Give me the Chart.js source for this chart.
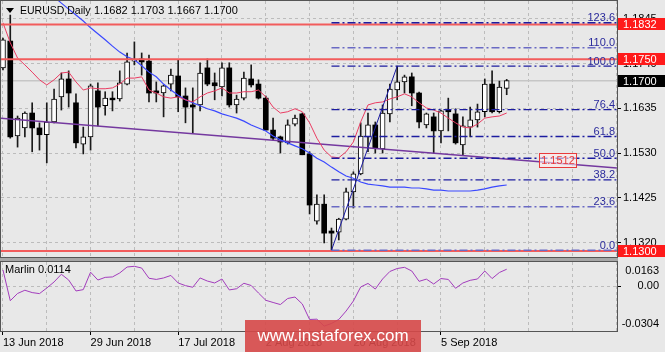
<!DOCTYPE html>
<html><head><meta charset="utf-8">
<script src="https://cdn.jsdelivr.net/npm/chart.js@4.4.1/dist/chart.umd.min.js"></script>
<style>
html,body{margin:0;padding:0;background:#e8e8e8;width:665px;height:352px;overflow:hidden}
#wrapA{position:absolute;left:0;top:0;width:665px;height:258px}
#wrapB{position:absolute;left:0;top:258px;width:665px;height:94px}
#wm{position:absolute;left:245px;top:320px;width:176px;height:32px;background:rgba(214,72,72,0.9);color:#fff;font:17px "Liberation Sans",Arial,sans-serif;line-height:32px;text-align:center}
</style></head><body>
<div id="wrapA"><canvas id="cA" width="665" height="258"></canvas></div>
<div id="wrapB"><canvas id="cB" width="665" height="94"></canvas></div>
<div id="wm">www.instaforex.com</div>
<script>
// ---------- DATA ----------
const symbolTitle = 'EURUSD,Daily';
const dateTickIdx = [0, 12, 24, 36, 48, 60];
const dateTickLabels = ['13 Jun 2018', '29 Jun 2018', '17 Jul 2018', '2 Aug 2018', '20 Aug 2018', '5 Sep 2018'];
const gridIdx = [0, 6, 12, 18, 24, 30, 36, 42, 48, 54, 60, 66, 72, 78, 84];

const opens = [1.1730,1.1793,1.1570,1.1589,1.1624,1.1589,1.1573,1.1603,1.1662,1.1704,
1.1648,1.1551,1.1568,1.1676,1.1641,1.1659,1.1657,1.1692,1.1746,1.1751,
1.1746,1.1676,1.1671,1.1692,1.1711,1.1664,1.1643,1.1643,1.1730,1.1695,
1.1685,1.1730,1.1643,1.1659,1.1704,1.1692,1.1659,1.1584,1.1568,1.1554,
1.1598,1.1622,1.1528,1.1370,1.1410,1.1347,1.1344,1.1375,1.1439,1.1481,
1.1568,1.1596,1.1540,1.1622,1.1678,1.1697,1.1709,1.1671,1.1596,1.1615,
1.1582,1.1631,1.1622,1.1549,1.1591,1.1608,1.1627,1.1692,1.1627,1.1682];
const highs = [1.1800,1.1854,1.1617,1.1627,1.1648,1.1601,1.1648,1.1680,1.1718,1.1723,
1.1669,1.1591,1.1692,1.1695,1.1674,1.1674,1.1723,1.1765,1.1791,1.1765,
1.1760,1.1697,1.1690,1.1727,1.1749,1.1683,1.1683,1.1742,1.1751,1.1718,
1.1742,1.1742,1.1666,1.1720,1.1737,1.1702,1.1664,1.1612,1.1570,1.1608,
1.1619,1.1624,1.1533,1.1432,1.1432,1.1354,1.1377,1.1448,1.1486,1.1601,
1.1624,1.1603,1.1643,1.1692,1.1734,1.1713,1.1718,1.1673,1.1624,1.1624,
1.1631,1.1659,1.1634,1.1615,1.1638,1.1645,1.1704,1.1723,1.1699,1.1703];
const lows = [1.1725,1.1565,1.1544,1.1568,1.1533,1.1537,1.1507,1.1601,1.1631,1.1638,
1.1542,1.1528,1.1537,1.1594,1.1619,1.1629,1.1652,1.1690,1.1737,1.1713,
1.1650,1.1650,1.1615,1.1676,1.1627,1.1601,1.1577,1.1629,1.1688,1.1655,
1.1664,1.1638,1.1624,1.1655,1.1685,1.1657,1.1584,1.1561,1.1530,1.1551,
1.1594,1.1526,1.1387,1.1363,1.1319,1.1302,1.1326,1.1373,1.1401,1.1479,
1.1533,1.1530,1.1530,1.1603,1.1655,1.1671,1.1641,1.1589,1.1589,1.1530,
1.1554,1.1582,1.1551,1.1526,1.1568,1.1591,1.1615,1.1624,1.1624,1.1667];
const closes = [1.1796,1.1568,1.1612,1.1624,1.1589,1.1573,1.1603,1.1657,1.1704,1.1671,
1.1554,1.1568,1.1688,1.1638,1.1659,1.1655,1.1695,1.1744,1.1749,1.1744,
1.1671,1.1671,1.1688,1.1713,1.1662,1.1638,1.1638,1.1718,1.1692,1.1688,
1.1730,1.1643,1.1657,1.1706,1.1690,1.1659,1.1584,1.1565,1.1556,1.1596,
1.1612,1.1526,1.1408,1.1410,1.1342,1.1342,1.1375,1.1439,1.1481,1.1570,
1.1596,1.1542,1.1624,1.1680,1.1697,1.1709,1.1671,1.1603,1.1622,1.1582,
1.1629,1.1627,1.1554,1.1594,1.1608,1.1627,1.1692,1.1627,1.1685,1.1700];

const maFast = [1.1836,1.1789,1.1753,1.1737,1.1720,1.1702,1.1690,1.1702,1.1718,1.1720,
1.1697,1.1678,1.1683,1.1681,1.1681,1.1683,1.1692,1.1706,1.1706,1.1709,
1.1678,1.1671,1.1662,1.1659,1.1662,1.1655,1.1650,1.1662,1.1671,1.1676,
1.1683,1.1671,1.1671,1.1674,1.1674,1.1678,1.1662,1.1638,1.1624,1.1627,
1.1634,1.1627,1.1601,1.1565,1.1537,1.1521,1.1519,1.1533,1.1556,1.1603,
1.1643,1.1648,1.1650,1.1657,1.1662,1.1669,1.1662,1.1648,1.1636,1.1631,
1.1624,1.1612,1.1601,1.1591,1.1589,1.1598,1.1612,1.1615,1.1617,1.1624];
const maSlow = [1.1983,1.1969,1.1955,1.1941,1.1929,1.1918,1.1906,1.1897,1.1882,1.1868,
1.1854,1.1840,1.1824,1.1810,1.1796,1.1781,1.1767,1.1756,1.1749,1.1735,
1.1720,1.1709,1.1692,1.1678,1.1666,1.1655,1.1648,1.1641,1.1634,1.1629,
1.1622,1.1617,1.1612,1.1605,1.1596,1.1589,1.1582,1.1570,1.1561,1.1554,
1.1547,1.1540,1.1530,1.1518,1.1509,1.1497,1.1486,1.1476,1.1471,1.1462,
1.1457,1.1455,1.1453,1.1450,1.1450,1.1450,1.1448,1.1448,1.1446,1.1443,
1.1443,1.1441,1.1441,1.1441,1.1441,1.1443,1.1446,1.1450,1.1453,1.1455];
const marlin = [0.0109,-0.0099,-0.0050,-0.0028,-0.0044,-0.0051,-0.0013,0.0028,0.0080,0.0041,
-0.0033,-0.0024,0.0094,0.0041,0.0059,0.0062,0.0089,0.0129,0.0134,0.0122,
0.0053,0.0045,0.0055,0.0072,0.0021,0.0003,-0.0008,0.0055,0.0034,0.0021,
0.0048,-0.0026,-0.0018,0.0019,0.0004,-0.0047,-0.0096,-0.0111,-0.0125,-0.0084,
-0.0074,-0.0121,-0.0226,-0.0224,-0.0271,-0.0253,-0.0226,-0.0169,-0.0101,-0.0006,
0.0018,-0.0020,0.0048,0.0099,0.0119,0.0127,0.0102,0.0032,0.0047,0.0014,
0.0051,0.0045,-0.0015,0.0021,0.0039,0.0048,0.0102,0.0051,0.0092,0.0114];

const priceTicks = [1.1845, 1.1740, 1.1635, 1.1530, 1.1425, 1.1320];
const redLevels = [1.1832, 1.1750, 1.1300];
const lastPrice = 1.1700;
const fibLow = 1.1302, fibHigh = 1.1734, fibStartIdx = 45, fibEndIdx = 54;
const fibRatios = [0, 23.6, 38.2, 50, 61.8, 76.4, 100, 110, 123.6];
const fibLight = [0, 23.6, 110];
const trendStart = {x: -0.41, y: 1.1612};
const trendEnd = {x: 84.1, y: 1.1495};
const trendLabel = 1.1512;
const marlinTicks = [0.0163, 0, -0.0304];

// ---------- BUILD ----------
const FONT = '"Liberation Sans", Arial, sans-serif';
const xMin = -0.27, xMax = 84.11;
const idx = opens.map((_, i) => i);
const wickData = idx.map(i => ({x: i, y: [lows[i], highs[i]]}));
const bullData = idx.filter(i => closes[i] >= opens[i]).map(i => ({x: i, y: [opens[i], closes[i]]}));
const bearData = idx.filter(i => closes[i] < opens[i]).map(i => ({x: i, y: [opens[i], closes[i]]}));
const toPts = arr => arr.map((v, i) => ({x: i, y: v}));
const fibLevels = fibRatios.map(r => fibLow + (fibHigh - fibLow) * r / 100);
const GRID = '#bcbcbc';

const hline = (v, color, w, order) => ({type: 'line', data: [{x: xMin - 2, y: v}, {x: xMax + 2, y: v}],
  borderColor: color, borderWidth: w, pointRadius: 0, order: order});

const datasetsA = [
  hline(lastPrice, '#c6c6c6', 1.5, 20),
  {type: 'bar', data: wickData, backgroundColor: '#1a1a1a', barThickness: 1, grouped: false, order: 12},
  {type: 'bar', data: bullData, backgroundColor: '#ffffff', borderColor: '#000', borderWidth: 1,
    borderSkipped: false, barThickness: 5, grouped: false, minBarLength: 1, order: 11},
  {type: 'bar', data: bearData, backgroundColor: '#000000', borderColor: '#000', borderWidth: 0,
    borderSkipped: false, barThickness: 5, grouped: false, minBarLength: 1, order: 11},
  {type: 'line', data: [trendStart, trendEnd], borderColor: '#74389f', borderWidth: 1.6, pointRadius: 0, order: 5},
  {type: 'line', data: toPts(maSlow), borderColor: '#3a48ff', borderWidth: 1.2, pointRadius: 0, order: 4},
  {type: 'line', data: toPts(maFast), borderColor: '#ea3c62', borderWidth: 1, pointRadius: 0, order: 3},
];
redLevels.forEach(v => datasetsA.push(hline(v, '#f25c5c', 2, 2)));
fibLevels.forEach((lv, k) => datasetsA.push({type: 'line',
  data: [{x: fibStartIdx, y: lv}, {x: xMax + 2, y: lv}],
  borderColor: fibLight.includes(fibRatios[k]) ? '#6a6ac4' : '#1c1ca0', borderWidth: 1.4,
  borderDash: [8, 3, 2, 3], pointRadius: 0, order: 1}));
datasetsA.push({type: 'line', data: [{x: fibStartIdx, y: fibLow}, {x: fibEndIdx, y: fibHigh}],
  borderColor: '#1a1aa0', borderWidth: 1, pointRadius: 0, order: 0});

const overlayA = {
  id: 'overlayA',
  afterDatasetsDraw(chart) {
    const {ctx, chartArea: a, scales: {y}} = chart;
    ctx.save();
    ctx.font = '11px ' + FONT;
    ctx.fillStyle = '#2a2a9c';
    ctx.textAlign = 'right';
    ctx.textBaseline = 'alphabetic';
    fibLevels.forEach((lv, k) => {
      ctx.fillText(fibRatios[k].toFixed(1), a.right - 2, y.getPixelForValue(lv) - 1.5);
    });
    // trendline price label
    const ty = y.getPixelForValue(trendLabel);
    ctx.strokeStyle = '#e83a3a'; ctx.lineWidth = 1;
    ctx.fillStyle = 'rgba(255,235,235,0.6)';
    ctx.fillRect(539.5, Math.round(ty) - 7.5, 37, 14);
    ctx.strokeRect(539.5, Math.round(ty) - 7.5, 37, 14);
    ctx.fillStyle = '#e83a3a'; ctx.textAlign = 'center'; ctx.textBaseline = 'middle';
    ctx.fillText(trendLabel.toFixed(4), 558, Math.round(ty));
    ctx.restore();
  },
  afterDraw(chart) {
    const {ctx, chartArea: a, scales: {y}} = chart;
    ctx.save();
    ctx.strokeStyle = '#555'; ctx.lineWidth = 1;
    ctx.strokeRect(a.left - 0.5, a.top - 0.5, a.right - a.left + 1, a.bottom - a.top + 1);
    ctx.font = '11px ' + FONT; ctx.textBaseline = 'middle'; ctx.textAlign = 'left';
    const badge = (v, bg) => {
      const py = Math.round(y.getPixelForValue(v));
      ctx.fillStyle = bg; ctx.fillRect(a.right + 1, py - 6, 47, 12);
      ctx.fillStyle = '#fff'; ctx.fillText(v.toFixed(4), a.right + 6, py + 0.5);
    };
    redLevels.forEach(v => badge(v, '#ff1a1a'));
    badge(lastPrice, '#000');
    // header
    ctx.fillStyle = '#000';
    ctx.beginPath(); ctx.moveTo(6, 8); ctx.lineTo(14, 8); ctx.lineTo(10, 13); ctx.closePath(); ctx.fill();
    ctx.font = '10.5px ' + FONT;
    ctx.fillText(symbolTitle, 20, 11);
    ctx.font = '11px ' + FONT;
    const L = opens.length - 1;
    ctx.fillText([opens[L], highs[L], lows[L], closes[L]].map(v => v.toFixed(4)).join(' '), 94, 11);
    ctx.restore();
  }
};

new Chart(document.getElementById('cA'), {
  type: 'bar',
  data: {datasets: datasetsA},
  options: {
    responsive: false, animation: false, devicePixelRatio: 1, events: [],
    layout: {padding: {left: 1, top: 1, right: 0, bottom: 1}},
    plugins: {legend: {display: false}, tooltip: {enabled: false}},
    scales: {
      x: {type: 'linear', min: xMin, max: xMax, offset: false,
        afterBuildTicks: s => { s.ticks = gridIdx.map(v => ({value: v})); },
        ticks: {display: false},
        grid: {color: GRID, drawTicks: false, offset: false},
        border: {display: false, dash: [3, 3]},
        afterFit: s => { s.height = 0; s.paddingLeft = 0; s.paddingRight = 0; }},
      y: {position: 'right', min: 1.1286, max: 1.1887,
        afterBuildTicks: s => { s.ticks = priceTicks.map(v => ({value: v})); },
        ticks: {callback: v => Number(v).toFixed(4), color: '#000', font: {family: FONT, size: 11}, padding: 2, autoSkip: false},
        grid: {color: GRID, tickColor: '#000', tickLength: 4, tickBorderDash: []},
        border: {display: false, dash: [3, 3]},
        afterFit: s => { s.width = 48; s.paddingTop = 0; s.paddingBottom = 0; }}
    }
  },
  plugins: [overlayA]
});

// ---------- LOWER PANEL ----------
const overlayB = {
  id: 'overlayB',
  afterDraw(chart) {
    const {ctx, chartArea: a, scales: {y}} = chart;
    ctx.save();
    ctx.fillStyle = '#a6a6a6';
    ctx.fillRect(0, 0, a.right + 1, a.top - 1);
    ctx.strokeStyle = '#555'; ctx.lineWidth = 1;
    ctx.strokeRect(a.left - 0.5, a.top - 0.5, a.right - a.left + 1, a.bottom - a.top + 1);
    ctx.font = '11px ' + FONT; ctx.fillStyle = '#000';
    ctx.textBaseline = 'middle'; ctx.textAlign = 'left';
    ctx.fillText('Marlin ' + marlin[marlin.length - 1].toFixed(4), 5, a.top + 8);
    ctx.textAlign = 'right';
    marlinTicks.forEach(v => {
      let py = y.getPixelForValue(v);
      if (v === y.max) py += 9;
      else if (v === y.min) py -= 7;
      ctx.fillText(v === 0 ? '0.00' : v.toFixed(4), 659, py);
    });
    ctx.restore();
  }
};

new Chart(document.getElementById('cB'), {
  type: 'line',
  data: {datasets: [{data: toPts(marlin), borderColor: '#a23cbc', borderWidth: 1, pointRadius: 0}]},
  options: {
    responsive: false, animation: false, devicePixelRatio: 1, events: [],
    layout: {padding: {left: 1, top: 4, right: 0, bottom: 0}},
    plugins: {legend: {display: false}, tooltip: {enabled: false}},
    scales: {
      x: {type: 'linear', min: xMin, max: xMax, offset: false,
        afterBuildTicks: s => { s.ticks = gridIdx.map(v => ({value: v})); },
        ticks: {autoSkip: false, maxRotation: 0, minRotation: 0, align: 'start', padding: 1, color: '#000',
          font: {family: FONT, size: 11},
          callback: v => { const k = dateTickIdx.indexOf(v); return k >= 0 ? dateTickLabels[k] : ''; }},
        grid: {color: GRID, tickLength: 4, tickBorderDash: [],
          tickColor: c => (c.tick && dateTickIdx.includes(c.tick.value)) ? '#000' : 'rgba(0,0,0,0)'},
        border: {display: false, dash: [3, 3]},
        afterFit: s => { s.height = 21; s.paddingLeft = 0; s.paddingRight = 0; }},
      y: {position: 'right', min: marlinTicks[2], max: marlinTicks[0],
        afterBuildTicks: s => { s.ticks = marlinTicks.map(v => ({value: v})); },
        ticks: {display: false},
        grid: {color: c => (c.tick && c.tick.value === 0) ? GRID : 'rgba(0,0,0,0)',
          tickColor: c => (c.tick && c.tick.value === 0) ? '#000' : 'rgba(0,0,0,0)', tickLength: 4, tickBorderDash: []},
        border: {display: false, dash: [3, 3]},
        afterFit: s => { s.width = 48; s.paddingTop = 0; s.paddingBottom = 0; }}
    }
  },
  plugins: [overlayB]
});
</script>
</body></html>
